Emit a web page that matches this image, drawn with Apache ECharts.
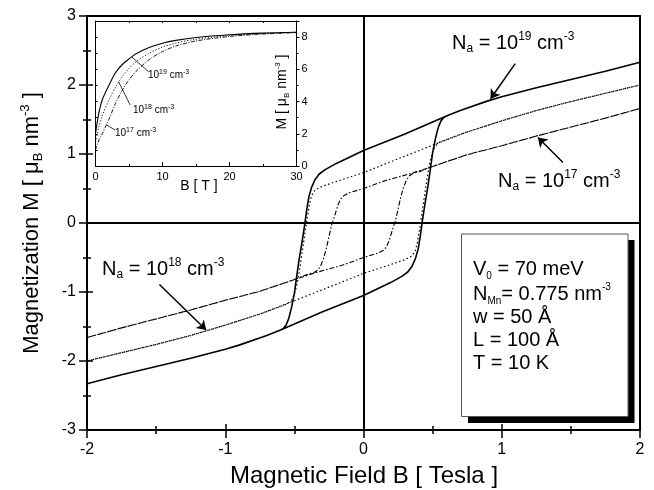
<!DOCTYPE html>
<html><head><meta charset="utf-8">
<script src="https://cdn.jsdelivr.net/npm/echarts/dist/echarts.min.js"></script>
<style>html,body{margin:0;padding:0;background:#fff}#c{width:654px;height:490px}</style>
</head><body><div id="c"></div>
<script>
const FONT = '"Liberation Sans", Arial, Helvetica, sans-serif';

// ---- main plot axes ----
const mainXRange = [-2, 2];
const mainYRange = [-3, 3];

// ---- hysteresis loops: [B (T), M (muB nm^-3)] ----
// Na = 1e19 cm^-3 (solid)
const n19Asc = [[-2,-2.33],[-1.75,-2.2],[-1.5,-2.08],[-1.25,-1.96],[-1,-1.83],[-0.9,-1.77],[-0.7,-1.63],[-0.6,-1.55],[-0.3,-1.29],[0,-1.05],[0.2,-0.86],[0.28,-0.77],[0.32,-0.71],[0.35,-0.63],[0.375,-0.52],[0.395,-0.38],[0.41,-0.2],[0.425,0.02],[0.445,0.28],[0.465,0.52],[0.485,0.8],[0.5,1.02],[0.52,1.22],[0.54,1.38],[0.56,1.48],[0.58,1.53],[0.6,1.55],[0.7,1.63],[0.9,1.77],[1,1.83],[1.25,1.96],[1.5,2.08],[1.75,2.2],[2,2.33]];
const n19Desc = [[2,2.33],[1.75,2.2],[1.5,2.08],[1.25,1.96],[1,1.83],[0.9,1.77],[0.7,1.63],[0.6,1.55],[0.3,1.29],[0,1.05],[-0.2,0.86],[-0.28,0.77],[-0.32,0.71],[-0.35,0.63],[-0.375,0.52],[-0.395,0.38],[-0.41,0.2],[-0.425,-0.02],[-0.445,-0.28],[-0.465,-0.52],[-0.485,-0.8],[-0.5,-1.02],[-0.52,-1.22],[-0.54,-1.38],[-0.56,-1.48],[-0.58,-1.53],[-0.6,-1.55],[-0.7,-1.63],[-0.9,-1.77],[-1,-1.83],[-1.25,-1.96],[-1.5,-2.08],[-1.75,-2.2],[-2,-2.33]];
// Na = 1e18 cm^-3 (dotted)
const n18Asc = [[-2,-2.0],[-1.75,-1.88],[-1.5,-1.76],[-1.25,-1.63],[-1,-1.48],[-0.75,-1.32],[-0.53,-1.15],[-0.25,-0.93],[0,-0.73],[0.2,-0.6],[0.3,-0.53],[0.35,-0.48],[0.375,-0.4],[0.39,-0.28],[0.405,-0.1],[0.42,0.1],[0.44,0.38],[0.46,0.65],[0.48,0.88],[0.5,1.03],[0.52,1.12],[0.55,1.17],[0.6,1.21],[0.75,1.32],[1,1.48],[1.25,1.63],[1.5,1.76],[1.75,1.88],[2,2.0]];
const n18Desc = [[2,2.0],[1.75,1.88],[1.5,1.76],[1.25,1.63],[1,1.48],[0.75,1.32],[0.53,1.15],[0.25,0.93],[0,0.73],[-0.2,0.6],[-0.3,0.53],[-0.35,0.48],[-0.375,0.4],[-0.39,0.28],[-0.405,0.1],[-0.42,-0.1],[-0.44,-0.38],[-0.46,-0.65],[-0.48,-0.88],[-0.5,-1.03],[-0.52,-1.12],[-0.55,-1.17],[-0.6,-1.21],[-0.75,-1.32],[-1,-1.48],[-1.25,-1.63],[-1.5,-1.76],[-1.75,-1.88],[-2,-2.0]];
// Na = 1e17 cm^-3 (dash-dot)
const n17Asc = [[-2,-1.66],[-1.75,-1.52],[-1.5,-1.39],[-1.25,-1.26],[-1,-1.12],[-0.75,-0.99],[-0.5,-0.82],[-0.33,-0.71],[-0.15,-0.61],[0,-0.5],[0.1,-0.44],[0.14,-0.4],[0.165,-0.35],[0.185,-0.26],[0.2,-0.16],[0.215,-0.06],[0.23,0.02],[0.25,0.2],[0.27,0.38],[0.29,0.52],[0.31,0.62],[0.33,0.68],[0.36,0.72],[0.4,0.74],[0.5,0.82],[0.75,0.99],[1,1.12],[1.25,1.26],[1.5,1.39],[1.75,1.52],[2,1.66]];
const n17Desc = [[2,1.66],[1.75,1.52],[1.5,1.39],[1.25,1.26],[1,1.12],[0.75,0.99],[0.5,0.82],[0.33,0.71],[0.15,0.61],[0,0.5],[-0.1,0.44],[-0.14,0.4],[-0.165,0.35],[-0.185,0.26],[-0.2,0.16],[-0.215,0.06],[-0.23,-0.02],[-0.25,-0.2],[-0.27,-0.38],[-0.29,-0.52],[-0.31,-0.62],[-0.33,-0.68],[-0.36,-0.72],[-0.4,-0.74],[-0.5,-0.82],[-0.75,-0.99],[-1,-1.12],[-1.25,-1.26],[-1.5,-1.39],[-1.75,-1.52],[-2,-1.66]];

// ---- inset: M vs B up to 30 T ----
const insetXRange = [0, 30];
const insetYRange = [0, 9];
const inset19 = [[0,2.0],[0.5,3.3],[1,4.1],[2,5.0],[3,5.8],[4,6.3],[5,6.65],[6,6.95],[8,7.35],[10,7.62],[12,7.8],[15,7.98],[20,8.15],[25,8.25],[30,8.3]];
const inset18 = [[0,1.5],[0.5,2.4],[1,3.1],[2,4.1],[3,4.9],[4,5.55],[5,6.05],[6,6.45],[8,7.0],[10,7.38],[12,7.63],[15,7.87],[20,8.1],[25,8.22],[30,8.3]];
const inset17 = [[0,1.0],[0.5,1.6],[1,2.0],[2,2.9],[3,3.9],[4,4.7],[5,5.35],[6,5.85],[8,6.6],[10,7.1],[12,7.45],[15,7.76],[20,8.04],[25,8.19],[30,8.28]];

const chart = echarts.init(document.getElementById('c'), null, {renderer:'canvas'});

function rich(base, small){
  return {
    b:{fontSize:base,fontFamily:FONT,color:'#000',lineHeight:Math.round(base*1.2)},
    sub:{fontSize:small,fontFamily:FONT,color:'#000',verticalAlign:'bottom',lineHeight:small},
    sup:{fontSize:small,fontFamily:FONT,color:'#000',verticalAlign:'top',lineHeight:small+4}
  };
}
function txt(x,y,text,base,small,align,rot){
  return {type:'text', x:x, y:y, rotation:rot||0, z:100,
    style:{text:text, rich:rich(base,small), align:align||'left', verticalAlign:'middle', fill:'#000'}};
}

const axLine = {show:true, onZero:false, lineStyle:{color:'#000', width:2}};
const thinLine = {show:true, onZero:false, lineStyle:{color:'#000', width:1}};
const noShow = {show:false};
const hiddenLine = {show:false, onZero:false};

const option = {
  animation:false,
  backgroundColor:'#fff',
  grid:[
    {left:87, top:16, width:553, height:414, containLabel:false, outerBoundsMode:'none'},
    {left:95.5, top:21, width:201, height:145, containLabel:false, outerBoundsMode:'none'}
  ],
  xAxis:[
    {type:'value', gridIndex:0, min:mainXRange[0], max:mainXRange[1], interval:1, position:'bottom',
      axisLine:axLine, axisTick:{show:true, length:8, lineStyle:{color:'#000', width:1.5}},
      minorTick:{show:true, splitNumber:2, length:4, lineStyle:{color:'#000', width:1.5}},
      axisLabel:{fontSize:16, color:'#000', fontFamily:FONT, margin:12, showMinLabel:true, showMaxLabel:true, hideOverlap:false},
      splitLine:noShow, minorSplitLine:noShow},
    {type:'value', gridIndex:0, min:mainXRange[0], max:mainXRange[1], position:'top',
      axisLine:axLine, axisTick:noShow, axisLabel:noShow, splitLine:noShow},
    {type:'value', gridIndex:1, min:insetXRange[0], max:insetXRange[1], interval:10, position:'bottom',
      axisLine:thinLine,
      axisTick:{show:true, inside:true, length:4, lineStyle:{color:'#000', width:1}},
      minorTick:{show:true, splitNumber:2, length:2, lineStyle:{color:'#000', width:1}},
      axisLabel:{fontSize:11, color:'#000', fontFamily:FONT, margin:5, showMinLabel:true, showMaxLabel:true},
      splitLine:noShow},
    {type:'value', gridIndex:1, min:insetXRange[0], max:insetXRange[1], interval:5, position:'top',
      axisLine:thinLine,
      axisTick:{show:true, inside:true, length:2, lineStyle:{color:'#000', width:1}},
      axisLabel:noShow, splitLine:noShow},
    // inward ticks of the main bottom axis
    {type:'value', gridIndex:0, min:mainXRange[0], max:mainXRange[1], interval:1, position:'bottom',
      axisLine:hiddenLine, axisTick:{show:true, inside:true, length:6, lineStyle:{color:'#000', width:1.5}},
      minorTick:{show:true, splitNumber:2, length:4, lineStyle:{color:'#000', width:1.5}},
      axisLabel:noShow, splitLine:noShow}
  ],
  yAxis:[
    {type:'value', gridIndex:0, min:mainYRange[0], max:mainYRange[1], interval:1, position:'left',
      axisLine:axLine, axisTick:{show:true, length:8, lineStyle:{color:'#000', width:1.5}},
      minorTick:{show:true, splitNumber:2, length:4, lineStyle:{color:'#000', width:1.5}},
      axisLabel:{fontSize:16, color:'#000', fontFamily:FONT, margin:11, showMinLabel:true, showMaxLabel:true, hideOverlap:false},
      splitLine:noShow, minorSplitLine:noShow},
    {type:'value', gridIndex:0, min:mainYRange[0], max:mainYRange[1], position:'right',
      axisLine:axLine, axisTick:noShow, axisLabel:noShow, splitLine:noShow},
    {type:'value', gridIndex:1, min:insetYRange[0], max:insetYRange[1], interval:2, position:'right',
      axisLine:thinLine,
      axisTick:{show:true, length:3, lineStyle:{color:'#000', width:1}},
      minorTick:{show:true, splitNumber:2, length:2, lineStyle:{color:'#000', width:1}},
      axisLabel:{fontSize:11, color:'#000', fontFamily:FONT, margin:5, showMinLabel:true, showMaxLabel:false},
      splitLine:noShow},
    {type:'value', gridIndex:1, min:insetYRange[0], max:insetYRange[1], interval:1, position:'left',
      axisLine:thinLine,
      axisTick:{show:true, inside:true, length:2, lineStyle:{color:'#000', width:1}},
      axisLabel:noShow, splitLine:noShow},
    // inward ticks of the main left axis
    {type:'value', gridIndex:0, min:mainYRange[0], max:mainYRange[1], interval:1, position:'left',
      axisLine:hiddenLine, axisTick:{show:true, inside:true, length:6, lineStyle:{color:'#000', width:1.5}},
      minorTick:{show:true, splitNumber:2, length:4, lineStyle:{color:'#000', width:1.5}},
      axisLabel:noShow, splitLine:noShow}
  ],
  series:[
    {type:'line', name:'1e19', xAxisIndex:0, yAxisIndex:0, data:n19Asc.concat(n19Desc), symbol:'none', silent:true,
      lineStyle:{color:'#000', width:1.6, type:'solid'}, z:5},
    {type:'line', name:'1e18', xAxisIndex:0, yAxisIndex:0, data:n18Asc.concat(n18Desc), symbol:'none', silent:true,
      lineStyle:{color:'#000', width:1.2, type:[1.5,2.5]}, z:5},
    {type:'line', name:'1e17', xAxisIndex:0, yAxisIndex:0, data:n17Asc.concat(n17Desc), symbol:'none', silent:true,
      lineStyle:{color:'#000', width:1.1, type:[5,2,1.5,2]}, z:5},
    // zero lines + arrows
    {type:'line', xAxisIndex:0, yAxisIndex:0, data:[], silent:true,
      markLine:{silent:true, symbol:'none', label:{show:false}, animation:false,
        lineStyle:{color:'#000', width:2, type:'solid'},
        data:[{xAxis:0},{yAxis:0}]}},
    {type:'line', xAxisIndex:0, yAxisIndex:0, data:[], silent:true,
      markLine:{silent:true, symbol:['none','arrow'], symbolSize:9, label:{show:false}, animation:false,
        lineStyle:{color:'#000', width:1.5, type:'solid'},
        data:[
          [{coord:[1.097,2.31]},{coord:[0.919,1.80]}],
          [{coord:[1.443,0.878]},{coord:[1.262,1.24]}],
          [{coord:[-1.476,-0.892]},{coord:[-1.138,-1.55]}]
        ]}},
    // inset
    {type:'line', xAxisIndex:2, yAxisIndex:2, data:inset19, symbol:'none', smooth:0.3, silent:true,
      lineStyle:{color:'#000', width:1.1, type:'solid'}},
    {type:'line', xAxisIndex:2, yAxisIndex:2, data:inset18, symbol:'none', smooth:0.3, silent:true,
      lineStyle:{color:'#000', width:0.9, type:[1.2,1.8]}},
    {type:'line', xAxisIndex:2, yAxisIndex:2, data:inset17, symbol:'none', smooth:0.3, silent:true,
      lineStyle:{color:'#000', width:0.9, type:[4,1.5,1,1.5]}},
    {type:'line', xAxisIndex:2, yAxisIndex:2, data:[], silent:true,
      markLine:{silent:true, symbol:'none', label:{show:false}, animation:false,
        lineStyle:{color:'#000', width:0.8, type:'solid'},
        data:[
          [{coord:[5.42,6.76]},{coord:[7.91,5.86]}],
          [{coord:[3.43,5.24]},{coord:[5.18,3.78]}],
          [{coord:[1.69,2.54]},{coord:[2.94,2.23]}]
        ]}}
  ],
  graphic:[
    // axis titles
    txt(364, 476, '{b|Magnetic Field B [ Tesla ]}', 24, 14, 'center'),
    txt(32, 223, '{b|Magnetization M [ μ}{sub|B}{b| nm}{sup|-3}{b| ]}', 22, 13, 'center', Math.PI/2),
    // main annotations
    txt(452, 43, '{b|N}{sub|a}{b| = 10}{sup|19}{b| cm}{sup|-3}', 20, 12),
    txt(498, 181, '{b|N}{sub|a}{b| = 10}{sup|17}{b| cm}{sup|-3}', 20, 12),
    txt(102, 269, '{b|N}{sub|a}{b| = 10}{sup|18}{b| cm}{sup|-3}', 20, 12),
    // inset titles/labels
    txt(199, 186, '{b|B [ T ]}', 14, 9, 'center'),
    txt(282, 92, '{b|M [ μ}{sub|B}{b| nm}{sup|-3}{b| ]}', 14, 8, 'center', Math.PI/2),
    txt(148, 75, '{b|10}{sup|19}{b| cm}{sup|-3}', 10, 7),
    txt(133, 110, '{b|10}{sup|18}{b| cm}{sup|-3}', 10, 7),
    txt(115, 133, '{b|10}{sup|17}{b| cm}{sup|-3}', 10, 7),
    // parameter box
    {type:'rect', shape:{x:468, y:240, width:166.5, height:183}, style:{fill:'#000'}, z:90},
    {type:'rect', shape:{x:461.5, y:234, width:166.5, height:182.5}, style:{fill:'#fff', stroke:'#555', lineWidth:1}, z:91},
    txt(473, 269, '{b|V}{sub|0}{b| = 70 meV}', 20, 10),
    txt(473, 294, '{b|N}{sub|Mn}{b|= 0.775 nm}{sup|-3}', 20, 10),
    txt(473, 317, '{b|w = 50 Å}', 20, 10),
    txt(473, 340, '{b|L = 100 Å}', 20, 10),
    txt(473, 363, '{b|T = 10 K}', 20, 10)
  ]
};
chart.setOption(option);
</script></body></html>
